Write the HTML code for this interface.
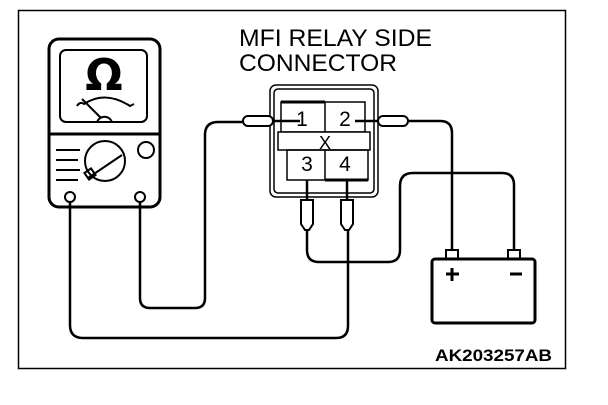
<!DOCTYPE html>
<html><head><style>body{margin:0;background:#fff}</style></head><body>
<svg width="608" height="400" xmlns="http://www.w3.org/2000/svg" font-family="Liberation Sans, sans-serif">
<rect x="18.5" y="10.5" width="547" height="358" fill="none" stroke="#000" stroke-width="1.5"/>
<text x="239" y="46" font-size="24" textLength="193" lengthAdjust="spacingAndGlyphs">MFI RELAY SIDE</text>
<text x="239" y="71" font-size="24" textLength="158" lengthAdjust="spacingAndGlyphs">CONNECTOR</text>
<text x="435" y="361" font-size="17" font-weight="bold" textLength="117" lengthAdjust="spacingAndGlyphs">AK203257AB</text>
<g fill="none" stroke="#000" stroke-width="3">
<rect x="49" y="39" width="111" height="168" rx="10"/>
<rect x="60" y="50" width="87" height="72" rx="6" stroke-width="2"/>
<line x1="50" y1="134" x2="159" y2="134"/>
<path d="M77 106 Q80 101 84 104 Q105 90 130 106 L134 104" stroke-width="2"/>
<line x1="82" y1="99" x2="101" y2="118" stroke-width="2"/>
<path d="M97 122 A8 8 0 0 1 112 122 Z" stroke-width="2" fill="#fff"/>
<circle cx="105" cy="161" r="20" stroke-width="2"/>
<line x1="88" y1="178" x2="122" y2="155" stroke-width="2"/>
<rect x="86" y="170" width="8" height="8" transform="rotate(-35 90 174)" stroke-width="2"/>
<circle cx="146" cy="150" r="8" stroke-width="2"/>
<path d="M56 150 H80 M56 160 H78 M56 170 H80 M56 180 H78" stroke-width="2"/>
<circle cx="70" cy="197" r="5" stroke-width="2"/>
<circle cx="140" cy="197" r="5" stroke-width="2"/>
<path d="M70 202 V325 Q70 338 83 338 H336 Q348 338 348 326 V200" stroke-width="2.5"/>
<path d="M140 202 V298 Q140 308 150 308 H195 Q205 308 205 298 V135 Q205 122 218 122 H243" stroke-width="2.5"/>
<path d="M307 228 V250 Q307 262 319 262 H348 M348 262 H388 Q400 262 400 250 V186 Q400 173 413 173 H502 Q514 173 514 185 V250" stroke-width="2.5"/>
<path d="M405 121 H440 Q452 121 452 133 V250" stroke-width="2.5"/>
<path d="M272 121 H300 M355 121 H380" stroke-width="2.5"/>
<rect x="270" y="85" width="108" height="112" rx="6" stroke-width="1.5"/>
<rect x="274" y="89" width="100" height="104" rx="4" stroke-width="1.5"/>
<rect x="281" y="102" width="84" height="30" stroke-width="1.5"/>
<line x1="281" y1="102" x2="325" y2="102"/>
<line x1="325" y1="102" x2="325" y2="180" stroke-width="1.5"/>
<rect x="278" y="132" width="92" height="18" stroke-width="1.5" fill="#fff"/>
<rect x="287" y="150" width="81" height="30" stroke-width="1.5"/>
<line x1="325" y1="180" x2="368" y2="180"/>
<line x1="307" y1="180" x2="307" y2="200" stroke-width="2.5"/>
<line x1="347" y1="180" x2="347" y2="200" stroke-width="2.5"/>
<rect x="243" y="116" width="30" height="10" rx="5" stroke-width="2" fill="#fff"/>
<rect x="378" y="116" width="30" height="10" rx="5" stroke-width="2" fill="#fff"/>
<path d="M301 200 H313 V224 L309 230 H305 L301 224 Z" stroke-width="2" fill="#fff"/>
<path d="M341 200 H353 V224 L349 230 H345 L341 224 Z" stroke-width="2" fill="#fff"/>
<rect x="432" y="259" width="103" height="64" rx="3"/>
<rect x="446" y="250" width="12" height="9" stroke-width="2"/>
<rect x="508" y="250" width="12" height="9" stroke-width="2"/>
<path d="M446 274 H459 M452 268 V281 M510 274 H522"/>
</g>
<text x="104" y="90" font-size="44" font-weight="bold" text-anchor="middle" font-family="DejaVu Sans, sans-serif">Ω</text>
<g font-size="21" text-anchor="middle">
<text x="302" y="126">1</text><text x="345" y="126">2</text>
<text x="325" y="149" font-size="18">X</text>
<text x="307" y="171">3</text><text x="345" y="171">4</text>
</g>
</svg>
</body></html>
